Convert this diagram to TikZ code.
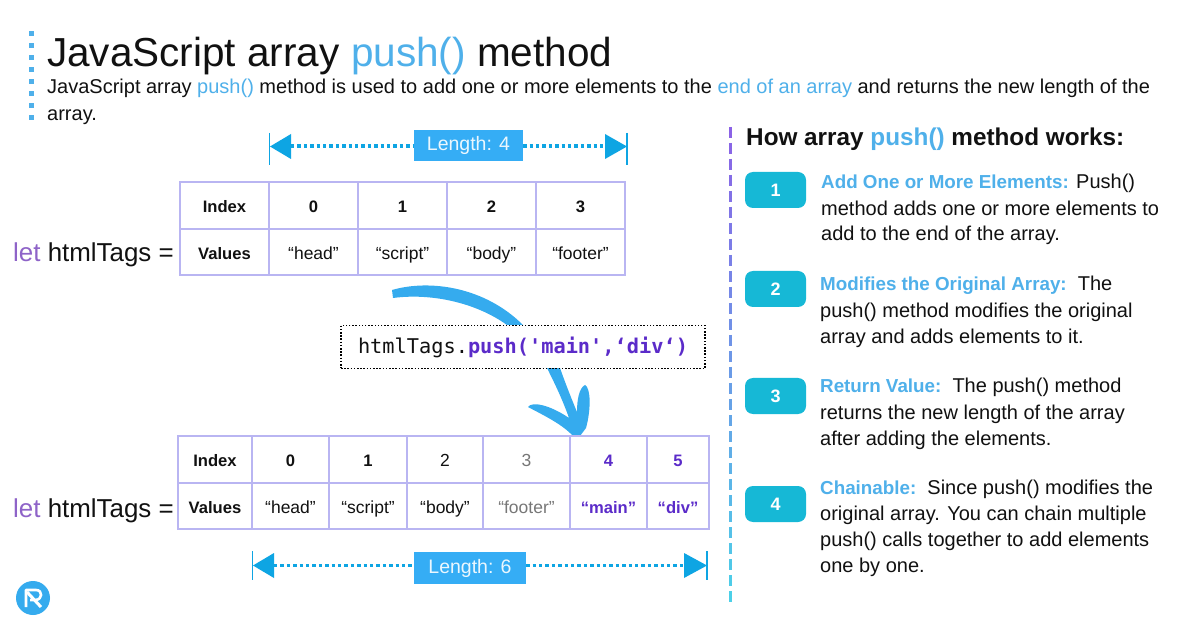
\documentclass[tikz,border=0pt]{standalone}
\usepackage{fontspec}
\setmainfont{Liberation Sans}
\setmonofont{DejaVu Sans Mono}
\definecolor{sky}{HTML}{4FB0EA}
\definecolor{arrowblue}{HTML}{35ABEE}
\definecolor{tipblue}{HTML}{0EA5E3}
\definecolor{pillblue}{HTML}{35ADF5}
\definecolor{teal}{HTML}{16B8D6}
\definecolor{grid}{HTML}{B9B5F2}
\definecolor{violet}{HTML}{5B2BC9}
\definecolor{letpurple}{HTML}{8E63C8}
\definecolor{ink}{HTML}{111111}
\definecolor{divtop}{HTML}{8B62E6}
\definecolor{divbot}{HTML}{4CD0E8}
\definecolor{faded}{HTML}{777777}
\newcommand{\hl}[1]{\textcolor{sky}{\fontsize{18.8}{20}\selectfont\bfseries #1}}
\tikzset{
 x=1pt,y=-1pt,
 cell/.style={draw=grid,line width=1.3pt,inner sep=0pt,text height=15pt,text depth=0.5pt,font=\fontsize{17.5}{18}\selectfont,text=ink},
 hd/.style={font=\fontsize{16.6}{18}\selectfont\bfseries},
 txt/.style={anchor=base west,inner sep=0pt,text=ink,font=\fontsize{20}{22}\selectfont},
 badge/.style={fill=teal,rounded corners=8pt,minimum width=61pt,minimum height=36pt,inner sep=0pt,text=white,font=\fontsize{18}{20}\selectfont\bfseries},
 pill/.style={fill=pillblue,inner sep=0pt,text=white!90!pillblue,font=\fontsize{19.5}{20}\selectfont},
 dotline/.style={tipblue,line width=3.6pt,dash pattern=on 3.4pt off 3pt},
 bar/.style={tipblue,line width=1.8pt},
 tri/.style={fill=tipblue},
 lett/.style={anchor=base west,inner sep=0pt,text=ink,font=\fontsize{25.9}{28}\selectfont},
}
\newcommand{\tcell}[7]{\node[cell,minimum width=#4pt,minimum height=#5pt,#6] (#1) at (#2,#3) {#7};}
\begin{document}
\begin{tikzpicture}
\useasboundingbox[fill=white] (0,0) rectangle (1200,628);
% left dotted bar
\foreach \yy in {31,43,...,121}{\fill[sky] (28.5,\yy) rectangle (33.5,\yy+5);}
% title
\node[anchor=base west,inner sep=0pt,text=ink,font=\fontsize{40.5}{44}\selectfont] (title) at (47,67) {JavaScript array \textcolor{sky}{push()} method};
\node[txt] (l1) at (47,94) {JavaScript array \textcolor{sky}{push()} method is used to add one or more elements to the \textcolor{sky}{end of an array} and returns the new length of the};
\node[txt] (l2) at (47,121) {array.};
% top dim
\node[pill,minimum width=109pt,minimum height=31pt] (lenA) at (468.5,145.5) {Length: 4};
\coordinate (a1) at (291,146); \coordinate (a2) at (605,146);
\draw[bar] (269.5,133)--(269.5,165);
\draw[bar] (627,133)--(627,165);
\fill[tri] (270,146.5)--(291,134)--(291,159)--cycle;
\fill[tri] (627,146.5)--(605,134)--(605,159)--cycle;
\draw[dotline] (a1)--(a1-|lenA.west);
\draw[dotline] (a2-|lenA.east)--(a2);
% table 1
\tcell{ai}{224.5}{205.5}{89}{47}{hd}{Index}
\tcell{a0}{313.5}{205.5}{89}{47}{hd}{0}
\tcell{a1c}{402.5}{205.5}{89}{47}{hd}{1}
\tcell{a2c}{491.5}{205.5}{89}{47}{hd}{2}
\tcell{a3c}{580.5}{205.5}{89}{47}{hd}{3}
\tcell{av}{224.5}{252}{89}{46}{hd}{Values}
\tcell{b0}{313.5}{252}{89}{46}{}{“head”}
\tcell{b1}{402.5}{252}{89}{46}{}{“script”}
\tcell{b2}{491.5}{252}{89}{46}{}{“body”}
\tcell{b3}{580.5}{252}{89}{46}{}{“footer”}
\node[lett] (letA) at (13,262) {\textcolor{letpurple}{let} htmlTags =};
% curved arrow
\fill[arrowblue] (392,290) .. controls (430,279) and (485,287) .. (523,325) -- (507,325) .. controls (475,302) and (430,293) .. (393,298) -- cycle;
\fill[arrowblue] (547,368) -- (560,368) .. controls (566,385) and (572,400) .. (577,412) .. controls (577,400) and (579,388) .. (585,385) .. controls (591,388) and (591,410) .. (586,428) -- (580,436) -- (573,436) .. controls (562,424) and (543,415) .. (528,407) .. controls (532,401) and (550,405) .. (569,418) .. controls (562,398) and (553,380) .. (547,368) -- cycle;
% code
\node[draw=black,line width=1.3pt,dash pattern=on 1.5pt off 1.7pt,fill=white,minimum width=364pt,minimum height=43pt,inner sep=0pt,font=\fontsize{20.3}{24}\ttfamily,text=ink] (code) at (523,347) {htmlTags.\textcolor{violet}{\bfseries push('main',‘div‘)}};
% table 2
\tcell{ci}{215}{459.5}{74}{47}{hd}{Index}
\tcell{c0}{290.5}{459.5}{77}{47}{hd}{0}
\tcell{c1}{368}{459.5}{78}{47}{hd}{1}
\tcell{c2}{445}{459.5}{76}{47}{}{2}
\tcell{c3}{526.5}{459.5}{87}{47}{text=faded}{3}
\tcell{c4}{608.5}{459.5}{77}{47}{hd,text=violet}{4}
\tcell{c5}{678}{459.5}{62}{47}{hd,text=violet}{5}
\tcell{dv}{215}{506}{74}{46}{hd}{Values}
\tcell{d0}{290.5}{506}{77}{46}{}{“head”}
\tcell{d1}{368}{506}{78}{46}{}{“script”}
\tcell{d2}{445}{506}{76}{46}{}{“body”}
\tcell{d3}{526.5}{506}{87}{46}{text=faded}{“footer”}
\tcell{d4}{608.5}{506}{77}{46}{hd,text=violet}{“main”}
\tcell{d5}{678}{506}{62}{46}{hd,text=violet}{“div”}
\node[lett] (letB) at (13,517) {\textcolor{letpurple}{let} htmlTags =};
% bottom dim
\node[pill,minimum width=112pt,minimum height=32pt] (lenB) at (470,568) {Length: 6};
\coordinate (b1i) at (274,565.5); \coordinate (b2i) at (684,565.5);
\draw[bar] (252.5,551)--(252.5,580);
\draw[bar] (707,551)--(707,580);
\fill[tri] (253,565.5)--(274,553)--(274,578)--cycle;
\fill[tri] (707,565.5)--(684,553)--(684,578)--cycle;
\draw[dotline] (b1i)--(b1i-|lenB.west);
\draw[dotline] (b2i-|lenB.east)--(b2i);
% logo
\fill[arrowblue] (33,598) circle (17);
\draw[white,line width=2.6pt,line join=round] (26,607)--(26,590)--(36,590) .. controls (43,590) and (43,600) .. (35,600)--(30,600);
\draw[white,line width=3pt] (27,592)--(41,607);
% divider
\foreach \i in {0,...,29}{
 \pgfmathsetmacro{\pc}{100-\i*100/29}
 \pgfmathsetmacro{\ya}{127+\i*16}
 \draw[divtop!\pc!divbot,line width=3pt] (730.5,\ya)--(730.5,\ya+11);
}
% right heading
\node[anchor=base west,inner sep=0pt,text=ink,font=\fontsize{24.3}{26}\selectfont\bfseries] (how) at (746,146) {How array \textcolor{sky}{push()} method works:};
% items
\node[badge] (s1) at (775.5,190) {1};
\node[txt] (s1a) at (821,189) {\hl{Add One or More Elements:} Push()};
\node[txt] (s1b) at (821,216) {method adds one or more elements to};
\node[txt] (s1c) at (821,241) {add to the end of the array.};
\node[badge] (s2) at (775.5,289) {2};
\node[txt] (s2a) at (820,291) {\hl{Modifies the Original Array:}\ \ The};
\node[txt] (s2b) at (820,318) {push() method modifies the original};
\node[txt] (s2c) at (820,344) {array and adds elements to it.};
\node[badge] (s3) at (775.5,396) {3};
\node[txt] (s3a) at (820,392) {\hl{Return Value:}\ \ The push() method};
\node[txt] (s3b) at (820,419) {returns the new length of the array};
\node[txt] (s3c) at (820,445) {after adding the elements.};
\node[badge] (s4) at (775.5,504) {4};
\node[txt] (s4a) at (820,494) {\hl{Chainable:}\ \ Since push() modifies the};
\node[txt] (s4b) at (820,520) {original array. You can chain multiple};
\node[txt] (s4c) at (820,546) {push() calls together to add elements};
\node[txt] (s4d) at (820,572) {one by one.};
\end{tikzpicture}
\end{document}
